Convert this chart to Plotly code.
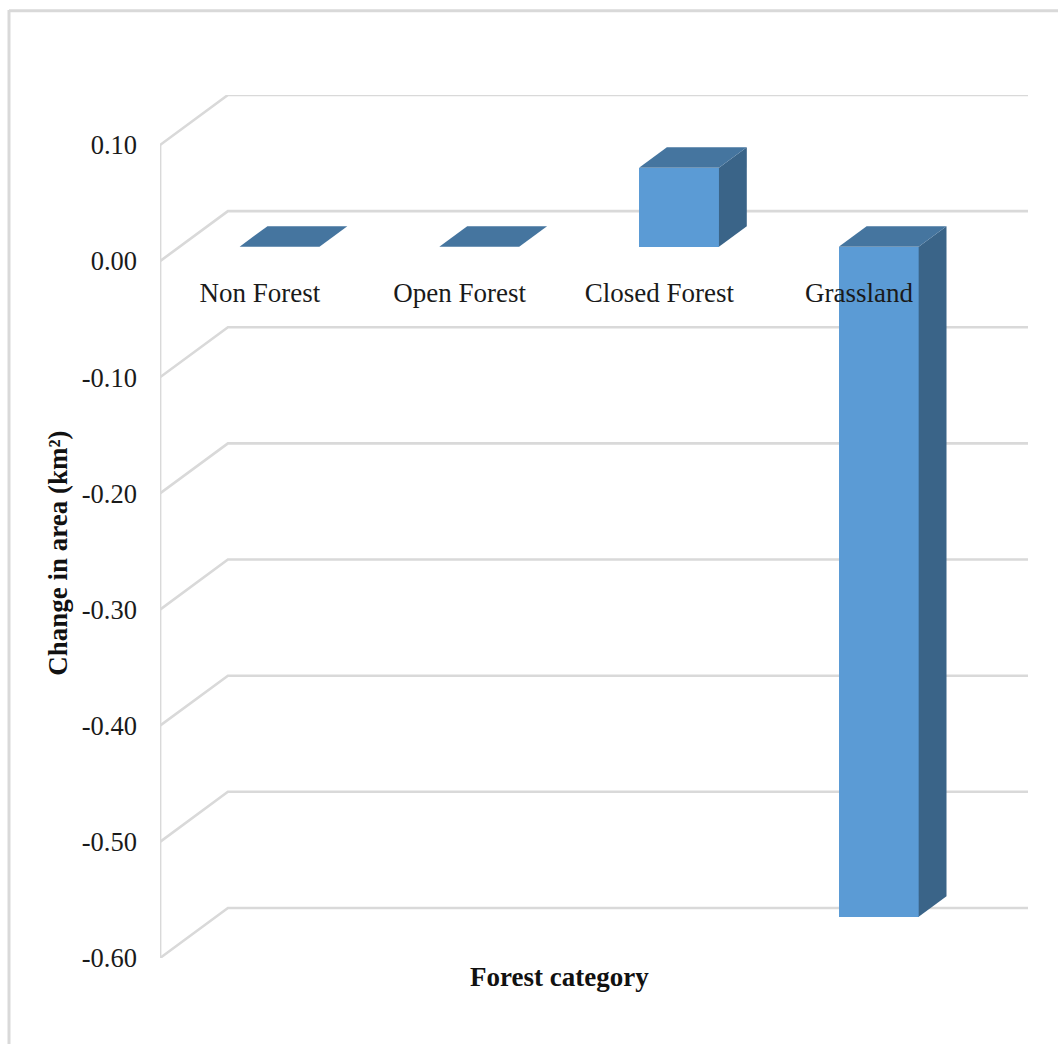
import plotly.graph_objects as go

# Chart data
categories = ["Non Forest", "Open Forest", "Closed Forest", "Grassland"]
change_km2 = [0.0, 0.0, 0.068, -0.577]
tick_values = [0.10, 0.00, -0.10, -0.20, -0.30, -0.40, -0.50, -0.60]
tick_labels = ["0.10", "0.00", "-0.10", "-0.20", "-0.30", "-0.40", "-0.50", "-0.60"]

# Oblique projection: depth moves a point right (category units) and up (value units)
DEPTH_X = 0.34
DEPTH_Y = 0.0431
WALL_END = 4.346
BAR_WIDTH = 0.40
BAR_NEAR = 0.29
BAR_FAR = 0.70

FONT = "Liberation Serif"
GRID = "#d9d9d9"
FRONT = "#5b9bd5"
TOP = "#45759f"
SIDE = "#3a6488"

positions = [i + 0.5 for i in range(len(categories))]
fig = go.Figure()

# Back wall gridlines with their diagonal run to the front plane
grid_x, grid_y = [], []
for v in tick_values:
    grid_x += [0, DEPTH_X, WALL_END, None]
    grid_y += [v, v + DEPTH_Y, v + DEPTH_Y, None]
fig.add_trace(go.Scatter(x=grid_x, y=grid_y, mode="lines", cliponaxis=False,
                         line=dict(color=GRID, width=2.6), hoverinfo="skip"))

# Front vertical axis line
fig.add_trace(go.Scatter(x=[0, 0], y=[min(tick_values), max(tick_values)], mode="lines",
                         cliponaxis=False, line=dict(color=GRID, width=2.8), hoverinfo="skip"))


def face(xs, ys, color):
    # Columns live on the overlay axes so they hide the gridlines behind them
    fig.add_trace(go.Scatter(x=xs, y=ys, mode="lines", fill="toself", fillcolor=color,
                             xaxis="x2", yaxis="y2",
                             line=dict(width=0, color=color), hoverinfo="skip"))


# Side and top faces of each column
dx0, dx1 = DEPTH_X * BAR_NEAR, DEPTH_X * BAR_FAR
dy0, dy1 = DEPTH_Y * BAR_NEAR, DEPTH_Y * BAR_FAR
for pos, val in zip(positions, change_km2):
    left = pos + dx0 - BAR_WIDTH / 2
    right = pos + dx0 + BAR_WIDTH / 2
    step_x = dx1 - dx0
    low, high = min(val, 0), max(val, 0)
    if high > low:
        face([right, right + step_x, right + step_x, right, right],
             [low + dy0, low + dy1, high + dy1, high + dy0, low + dy0], SIDE)
    face([left, right, right + step_x, left + step_x, left],
         [high + dy0, high + dy0, high + dy1, high + dy1, high + dy0], TOP)

# Front faces
fig.add_trace(go.Bar(x=[p + dx0 for p in positions], y=change_km2, base=[dy0] * len(positions),
                     width=BAR_WIDTH, xaxis="x2", yaxis="y2",
                     marker=dict(color=FRONT, line=dict(width=0)),
                     hovertemplate="%{customdata}: %{y:.3f}<extra></extra>",
                     customdata=categories))

# Category labels sit just under the zero level
fig.add_trace(go.Scatter(x=positions, y=[-0.029] * len(positions), mode="text",
                         text=categories, textposition="middle center", cliponaxis=False,
                         xaxis="x2", yaxis="y2",
                         textfont=dict(family=FONT, size=27, color="#1a1a1a"), hoverinfo="skip"))

value_range = [-0.60, 0.10 + DEPTH_Y]
fig.update_layout(
    width=1058, height=1044, autosize=False,
    margin=dict(l=160, r=30, t=95, b=86),
    paper_bgcolor="white", plot_bgcolor="white",
    showlegend=False, bargap=0,
    font=dict(family=FONT, size=26, color="#1a1a1a"),
    xaxis=dict(range=[0, WALL_END], visible=False, fixedrange=True),
    yaxis=dict(range=value_range, tickmode="array", tickvals=tick_values,
               ticktext=tick_labels, showgrid=False, zeroline=False, showline=False,
               ticks="", ticklabelstandoff=22, fixedrange=True,
               tickfont=dict(family=FONT, size=26.5, color="#1a1a1a")),
    xaxis2=dict(range=[0, WALL_END], overlaying="x", visible=False, fixedrange=True),
    yaxis2=dict(range=value_range, overlaying="y", visible=False, fixedrange=True),
    annotations=[
        dict(text="<b>Forest category</b>", xref="x", yref="paper", x=2.0, y=-0.0215,
             yanchor="middle", showarrow=False,
             font=dict(family=FONT, size=27, color="#111111")),
        dict(text="<b>Change in area (km²)</b>", xref="paper", yref="y", x=-102 / 868, y=-0.252,
             xanchor="center", yanchor="middle", textangle=-90, showarrow=False,
             font=dict(family=FONT, size=27, color="#111111")),
    ],
    shapes=[
        # Outer frame: only the top and left edges show
        dict(type="line", xref="paper", yref="paper", x0=-151 / 868, x1=898 / 868,
             y0=(1044 - 86 - 10.7) / 863, y1=(1044 - 86 - 10.7) / 863,
             line=dict(color=GRID, width=3)),
        dict(type="line", xref="paper", yref="paper", x0=-151 / 868, x1=-151 / 868,
             y0=-86 / 863, y1=(1044 - 86 - 10) / 863,
             line=dict(color=GRID, width=3)),
    ],
)

fig.write_html("out.html")
